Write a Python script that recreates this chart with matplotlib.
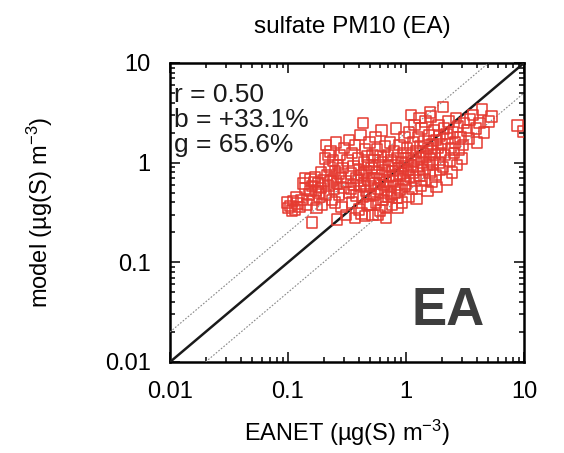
import matplotlib
matplotlib.use("Agg")
import matplotlib.pyplot as plt
import numpy as np

plt.rcParams['font.family'] = ['Liberation Sans', 'DejaVu Sans']
plt.rcParams['mathtext.default'] = 'regular'

# EANET observations vs model, sulfate PM10 (µg(S) m-3)
obs_a = [0.098, 0.10, 0.105, 0.11, 0.115, 0.12, 0.125, 0.13, 0.118, 0.108]
mod_a = [0.40, 0.35, 0.37, 0.41, 0.34, 0.39, 0.36, 0.42, 0.45, 0.33]

obs_b = [0.135, 0.14, 0.145, 0.15, 0.155, 0.16, 0.16, 0.165, 0.17, 0.172,
         0.175, 0.18, 0.185, 0.19, 0.19, 0.195, 0.14, 0.155, 0.168, 0.182]
mod_b = [0.62, 0.55, 0.38, 0.48, 0.68, 0.25, 0.58, 0.42, 0.72, 0.52,
         0.35, 0.62, 0.45, 0.80, 0.56, 0.38, 0.70, 0.52, 0.64, 0.50]

obs_c = [0.20, 0.205, 0.21, 0.21, 0.215, 0.22, 0.225, 0.23, 0.235, 0.24,
         0.24, 0.245, 0.25, 0.255, 0.26, 0.26, 0.265, 0.27, 0.275, 0.28,
         0.285, 0.29, 0.295, 0.30, 0.22, 0.23, 0.27, 0.25]
mod_c = [0.66, 1.1, 0.48, 1.5, 0.75, 0.58, 0.90, 1.3, 0.42, 0.68,
         1.05, 0.55, 0.82, 1.6, 0.27, 0.62, 0.95, 0.48, 1.2, 0.72,
         0.36, 0.88, 0.56, 1.4, 1.2, 0.65, 0.78, 0.40]

obs_d = [0.31, 0.31, 0.32, 0.33, 0.33, 0.34, 0.35, 0.35, 0.36, 0.36,
         0.37, 0.37, 0.38, 0.38, 0.39, 0.40, 0.40, 0.41, 0.41, 0.42,
         0.43, 0.43, 0.44, 0.44, 0.45, 0.45, 0.46, 0.46, 0.47, 0.47,
         0.48, 0.48, 0.49, 0.49, 0.34, 0.42, 0.39, 0.44]
mod_d = [0.65, 0.30, 1.05, 0.50, 1.7, 0.78, 0.40, 1.25, 0.60, 0.92,
         0.28, 1.5, 0.70, 0.47, 1.1, 0.85, 0.34, 0.58, 1.9, 0.75,
         2.5, 0.45, 1.0, 0.62, 0.29, 1.35, 0.52, 0.82, 0.38, 1.15,
         0.68, 0.95, 0.46, 1.6, 0.55, 0.31, 0.66, 0.80]

obs_e = [0.50, 0.50, 0.51, 0.52, 0.52, 0.53, 0.54, 0.54, 0.55, 0.55,
         0.56, 0.57, 0.57, 0.58, 0.59, 0.60, 0.60, 0.61, 0.62, 0.62,
         0.63, 0.64, 0.64, 0.65, 0.66, 0.66, 0.67, 0.68, 0.69, 0.70,
         0.70, 0.71, 0.72, 0.73, 0.74, 0.75, 0.76, 0.77, 0.78, 0.79,
         0.80, 0.81, 0.82, 0.83, 0.84, 0.85, 0.86, 0.87, 0.88, 0.89,
         0.90, 0.92, 0.93, 0.94, 0.95, 0.96, 0.97, 0.98, 0.99, 0.58,
         0.68, 0.75, 0.85]
mod_e = [0.58, 0.38, 0.88, 1.2, 0.30, 0.70, 0.48, 1.05, 0.62, 1.8,
         0.40, 0.80, 1.35, 0.55, 0.95, 0.33, 0.68, 1.15, 0.50, 2.1,
         0.75, 0.42, 1.0, 0.60, 1.45, 0.85, 0.36, 0.64, 0.52, 1.2,
         0.92, 0.45, 0.72, 1.6, 0.58, 1.05, 0.38, 0.82, 0.66, 1.3,
         0.50, 0.95, 2.2, 0.74, 0.44, 1.12, 0.60, 0.88, 1.5, 0.54,
         0.78, 1.0, 0.40, 1.25, 0.68, 0.92, 1.8, 0.58, 0.82, 0.30,
         0.28, 0.48, 0.35]

obs_f = [1.0, 1.0, 1.02, 1.04, 1.05, 1.06, 1.08, 1.1, 1.1, 1.12,
         1.14, 1.15, 1.17, 1.18, 1.2, 1.22, 1.23, 1.25, 1.27, 1.28,
         1.3, 1.32, 1.34, 1.35, 1.37, 1.39, 1.4, 1.42, 1.44, 1.46,
         1.48, 1.5, 1.52, 1.54, 1.56, 1.58, 1.6, 1.62, 1.64, 1.66,
         1.68, 1.7, 1.72, 1.75, 1.78, 1.8, 1.82, 1.85, 1.88, 1.9,
         1.93, 1.95, 1.98, 1.1, 1.3, 1.6]
mod_f = [1.1, 0.62, 1.4, 0.85, 0.45, 2.0, 0.72, 1.2, 0.95, 0.55,
         1.6, 0.80, 1.05, 2.4, 0.66, 1.3, 0.43, 0.90, 1.8, 1.1,
         0.74, 1.45, 0.58, 2.2, 1.0, 0.85, 1.25, 1.65, 0.68, 2.6,
         1.15, 0.95, 0.52, 1.4, 1.9, 0.80, 1.08, 2.9, 1.3, 0.65,
         1.55, 0.98, 2.1, 1.2, 0.75, 1.7, 0.57, 1.4, 2.4, 1.0,
         1.85, 0.85, 1.25, 3.0, 2.8, 3.2]

obs_g = [2.0, 2.05, 2.05, 2.1, 2.15, 2.2, 2.25, 2.3, 2.35, 2.4,
         2.45, 2.5, 2.55, 2.6, 2.7, 2.75, 2.8, 2.9, 3.0, 3.05,
         3.1, 2.2, 2.65]
mod_g = [1.55, 3.6, 0.9, 2.2, 1.2, 0.68, 1.75, 2.6, 1.05, 1.4,
         0.80, 2.0, 1.25, 1.6, 0.95, 2.3, 1.35, 1.8, 1.1, 1.5,
         2.5, 1.95, 2.8]

obs_h = [3.4, 3.5, 3.7, 3.9, 4.2, 4.4, 4.6, 5.0, 5.3, 3.3, 4.0, 8.8, 9.8]
mod_h = [1.75, 2.7, 3.0, 2.2, 2.5, 3.4, 2.0, 2.6, 2.9, 2.1, 1.6, 2.35, 2.05]

eanet = np.array(obs_a + obs_b + obs_c + obs_d + obs_e + obs_f + obs_g + obs_h)
model = np.array(mod_a + mod_b + mod_c + mod_d + mod_e + mod_f + mod_g + mod_h)

stats = ["r = 0.50", "b = +33.1%", "g = 65.6%"]
ticks = [0.01, 0.1, 1, 10]
tick_labels = ["0.01", "0.1", "1", "10"]

fig = plt.figure(figsize=(5.64, 4.53), dpi=100)
ax = fig.add_axes([170 / 564, 1 - 362 / 453, 354 / 564, 299 / 453])

ax.set_xscale('log')
ax.set_yscale('log')
ax.set_xlim(0.01, 10)
ax.set_ylim(0.01, 10)

# 1:1 line and factor-of-two lines
ref = np.array([0.01, 10])
ax.plot(ref, ref, color='#1a1a1a', lw=1.8, zorder=3)
ax.plot(ref, 2 * ref, color='#888888', lw=0.8, ls=(0, (1.5, 1.5)), zorder=3)
ax.plot(ref, ref / 2, color='#888888', lw=0.8, ls=(0, (1.5, 1.5)), zorder=3)

ax.scatter(eanet, model, marker='s', s=56, facecolors='none',
           edgecolors='#e53a30', linewidths=1.1, zorder=4, clip_on=True)

ax.set_xticks(ticks)
ax.set_xticklabels(tick_labels)
ax.set_yticks(ticks)
ax.set_yticklabels(tick_labels)
ax.tick_params(which='both', direction='in', top=True, right=True, width=1.1)
ax.tick_params(which='major', length=7, labelsize=17, pad=14)
ax.tick_params(which='minor', length=3.5)
for sp in ax.spines.values():
    sp.set_linewidth(1.8)

for i, s in enumerate(stats):
    ax.text(0.010, 0.870 - 0.084 * i, s, transform=ax.transAxes,
            fontsize=19, color='#1a1a1a', va='baseline', ha='left', zorder=5)

ax.text(0.89, 0.17, "EA", transform=ax.transAxes, fontsize=38,
        fontweight='bold', color='#3d3d3d', ha='right', va='center', zorder=5)

ax.set_xlabel("EANET (µg(S) m$^{-3}$)", fontsize=17, labelpad=10)
ax.set_ylabel("model (µg(S) m$^{-3}$)", fontsize=17, labelpad=36)
fig.text(352 / 564, 1 - 27 / 453, "sulfate PM10 (EA)", fontsize=17.5,
         ha='center', va='center')

fig.savefig("out.png", dpi=100)
